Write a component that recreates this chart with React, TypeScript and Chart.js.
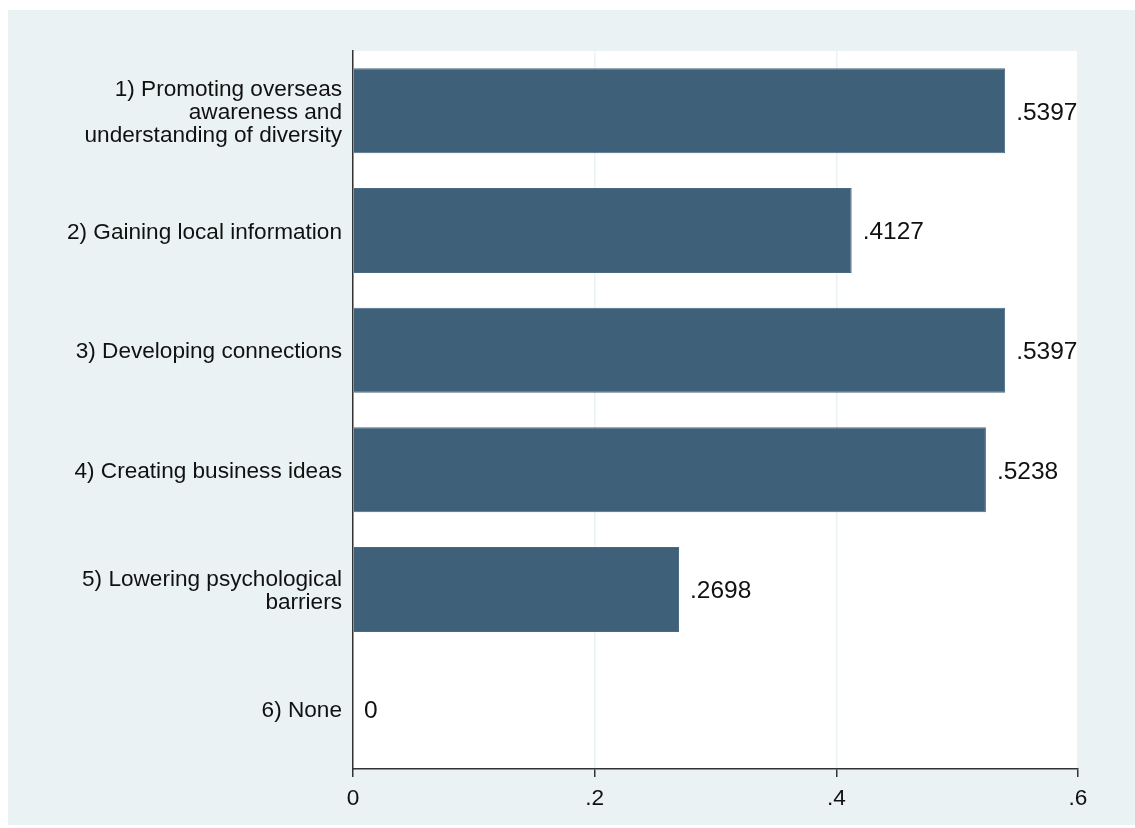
import React, { useEffect, useRef } from "react";
import { Chart, registerables } from "chart.js";

Chart.register(...registerables);

const categories: (string | string[])[] = [
  ["1) Promoting overseas", "awareness and", "understanding of diversity"],
  "2) Gaining local information",
  "3) Developing connections",
  "4) Creating business ideas",
  ["5) Lowering psychological", "barriers"],
  "6) None",
];
const values: number[] = [0.5397, 0.4127, 0.5397, 0.5238, 0.2698, 0];
const xTicks: number[] = [0, 0.2, 0.4, 0.6];

const W = 1135;
const H = 828;
const GRAPH_BG = "#eaf2f3";
const BAR = "#3f6079";
const TEXT = "#111111";
const FONT = "'Liberation Sans', Arial, sans-serif";

const fmt = (v: number) => (v === 0 ? "0" : String(v).replace(/^0/, ""));

const bgPlugin = {
  id: "bg",
  beforeDraw(chart: any) {
    const { ctx, chartArea } = chart;
    ctx.save();
    ctx.fillStyle = "#ffffff";
    ctx.fillRect(0, 0, W, H);
    ctx.fillStyle = GRAPH_BG;
    ctx.fillRect(8, 10, W - 8, 815);
    ctx.fillStyle = "#ffffff";
    ctx.fillRect(chartArea.left, chartArea.top, chartArea.right - chartArea.left, chartArea.bottom - chartArea.top);
    ctx.restore();
  },
};

const valueLabels = {
  id: "valueLabels",
  afterDatasetsDraw(chart: any) {
    const { ctx } = chart;
    const meta = chart.getDatasetMeta(0);
    const data = chart.data.datasets[0].data as number[];
    ctx.save();
    ctx.font = `24.5px ${FONT}`;
    ctx.fillStyle = TEXT;
    ctx.textAlign = "left";
    ctx.textBaseline = "middle";
    meta.data.forEach((el: any, i: number) => {
      ctx.fillText(fmt(data[i]), el.x + 11, el.y + 2);
    });
    ctx.restore();
  },
};

export default function App() {
  const ref = useRef<HTMLCanvasElement>(null);
  useEffect(() => {
    if (!ref.current) return;
    const chart = new Chart(ref.current, {
      type: "bar",
      data: {
        labels: categories,
        datasets: [
          {
            data: values,
            backgroundColor: BAR,
            borderColor: "#4a6a82",
            borderWidth: 1,
            barPercentage: 0.71,
            categoryPercentage: 1,
          },
        ],
      },
      options: {
        indexAxis: "y",
        responsive: false,
        animation: false,
        devicePixelRatio: 1,
        layout: { padding: { left: 0, top: 51, right: 57, bottom: 0 } },
        plugins: {
          legend: { display: false },
          tooltip: { enabled: false },
        },
        scales: {
          x: {
            type: "linear",
            min: 0,
            max: 0.6,
            afterBuildTicks: (scale: any) => {
              scale.ticks = xTicks.map((v) => ({ value: v }));
            },
            afterFit: (scale: any) => {
              scale.height = H - 769;
            },
            grid: {
              color: GRAPH_BG,
              lineWidth: 1.5,
              tickColor: "#333333",
              tickLength: 8,
              drawOnChartArea: true,
            },
            border: { display: true, color: "#333333", width: 1.5 },
            ticks: {
              color: TEXT,
              font: { family: FONT, size: 22.6 },
              padding: 8,
              maxRotation: 0,
              callback: (v: any) => fmt(Number(v)),
            },
          },
          y: {
            type: "category",
            afterFit: (scale: any) => {
              scale.width = 353;
            },
            grid: { display: false, drawTicks: false },
            border: { display: true, color: "#333333", width: 1.5 },
            ticks: {
              color: TEXT,
              font: { family: FONT, size: 22.6, lineHeight: 1.02 },
              padding: 11,
              labelOffset: 2,
              autoSkip: false,
            },
          },
        },
      },
      plugins: [bgPlugin, valueLabels],
    });
    return () => chart.destroy();
  }, []);

  return (
    <div style={{ position: "fixed", left: 0, top: 0, width: W, height: H, background: "#fff" }}>
      <canvas ref={ref} width={W} height={H} style={{ display: "block", width: W, height: H }} />
    </div>
  );
}
